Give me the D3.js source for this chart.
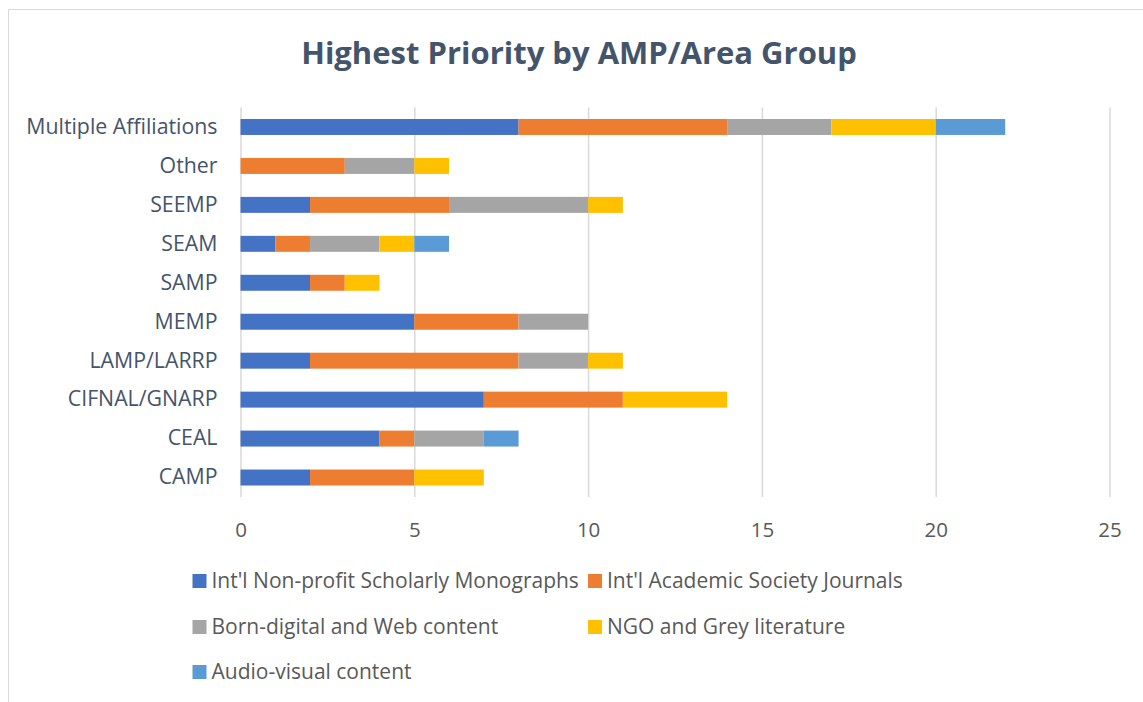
<!DOCTYPE html>
<html>
<head>
<meta charset="utf-8">
<script src="https://cdn.jsdelivr.net/npm/d3@7"></script>
<style>
  body { margin: 0; background: #fff; }
  svg { display: block; font-family: "Open Sans", sans-serif; }
</style>
</head>
<body>
<svg id="chart" width="1143" height="702"></svg>
<script>
// ************************************
// Data (bottom-to-top order, as in the source sheet)
// ************************************
const categories = ["CAMP", "CEAL", "CIFNAL/GNARP", "LAMP/LARRP", "MEMP",
                    "SAMP", "SEAM", "SEEMP", "Other", "Multiple Affiliations"];
const monographs  = [2, 4, 7, 2, 5, 2, 1, 2, 0, 8];
const journals    = [3, 1, 4, 6, 3, 1, 1, 4, 3, 6];
const bornDigital = [0, 2, 0, 2, 2, 0, 2, 4, 2, 3];
const ngo         = [2, 0, 3, 1, 0, 1, 1, 1, 1, 3];
const audioVisual = [0, 1, 0, 0, 0, 0, 1, 0, 0, 2];

const seriesNames = ["Int'l Non-profit Scholarly Monographs", "Int'l Academic Society Journals",
                     "Born-digital and Web content", "NGO and Grey literature", "Audio-visual content"];
const seriesValues = [monographs, journals, bornDigital, ngo, audioVisual];
const colors = ["#4472C4", "#ED7D31", "#A5A5A5", "#FFC000", "#5B9BD5"];
const xTicks = [0, 5, 10, 15, 20, 25];

// rows for d3.stack
const rows = categories.map((c, i) => {
    const r = {category: c};
    seriesNames.forEach((s, j) => r[s] = seriesValues[j][i]);
    return r;
});
const stacked = d3.stack().keys(seriesNames)(rows);

// ************************************
// Chart frame
// ************************************
const svg = d3.select("#chart");
const margin = {top: 107.5, left: 240.5, right: 33.5, bottom: 205};
const width = +svg.attr("width") - margin.left - margin.right;
const height = +svg.attr("height") - margin.top - margin.bottom;

// light outer border (Excel chart area)
svg.append("rect")
    .attr("x", 8.5).attr("y", 9.5)
    .attr("width", 1150).attr("height", 700)
    .attr("fill", "none").attr("stroke", "#D9D9D9");

svg.append("text")
    .attr("x", 579).attr("y", 64)
    .attr("text-anchor", "middle")
    .attr("font-size", 31).attr("font-weight", 700)
    .attr("fill", "#44546A")
    .text("Highest Priority by AMP/Area Group");

const g = svg.append("g").attr("transform", `translate(${margin.left},${margin.top})`);

// Scales
const x = d3.scaleLinear().domain([0, 25]).range([0, width]);
const y = d3.scaleBand()
    .domain(categories.slice().reverse())
    .range([0, height])
    .paddingInner(0.59)
    .paddingOuter(0.295);

// Gridlines
g.append("g")
    .attr("class", "grid")
    .call(d3.axisBottom(x).tickValues(xTicks).tickSize(height).tickFormat(""))
    .call(s => s.select(".domain").remove())
    .call(s => s.selectAll("line").attr("stroke", "#D9D9D9").attr("stroke-width", 1.5));

// Bars
g.selectAll(".series")
    .data(stacked)
    .enter().append("g")
    .attr("class", "series")
    .attr("fill", (d, i) => colors[i])
  .selectAll("rect")
    .data(d => d.filter(v => v[1] > v[0]))
    .enter().append("rect")
    .attr("x", d => x(d[0]))
    .attr("y", d => y(d.data.category))
    .attr("width", d => x(d[1]) - x(d[0]))
    .attr("height", y.bandwidth());

// X axis labels
g.append("g")
    .attr("transform", `translate(0,${height})`)
    .call(d3.axisBottom(x).tickValues(xTicks).tickSize(0).tickPadding(25))
    .call(s => s.select(".domain").remove())
    .call(s => s.selectAll("text")
        .attr("font-family", "Open Sans").attr("font-size", 20.5).attr("fill", "#595959"));

// Y axis labels
g.append("g")
    .call(d3.axisLeft(y).tickSize(0).tickPadding(23))
    .call(s => s.select(".domain").remove())
    .call(s => s.selectAll("text")
        .attr("font-family", "Open Sans").attr("font-size", 21.3).attr("fill", "#44546A"));

// ************************************
// Legend
// ************************************
const legendCols = [192.5, 588];
const legendRows = [581, 627, 672];
const legend = svg.append("g").selectAll(".legend")
    .data(seriesNames)
    .enter().append("g")
    .attr("class", "legend")
    .attr("transform", (d, i) => `translate(${legendCols[i % 2]},${legendRows[Math.floor(i / 2)]})`);

legend.append("rect")
    .attr("x", 0).attr("y", -7)
    .attr("width", 14).attr("height", 14)
    .attr("fill", (d, i) => colors[i]);

legend.append("text")
    .attr("x", 19).attr("dy", "0.35em")
    .attr("font-size", 21).attr("fill", "#595959")
    .text(d => d);
</script>
</body>
</html>
